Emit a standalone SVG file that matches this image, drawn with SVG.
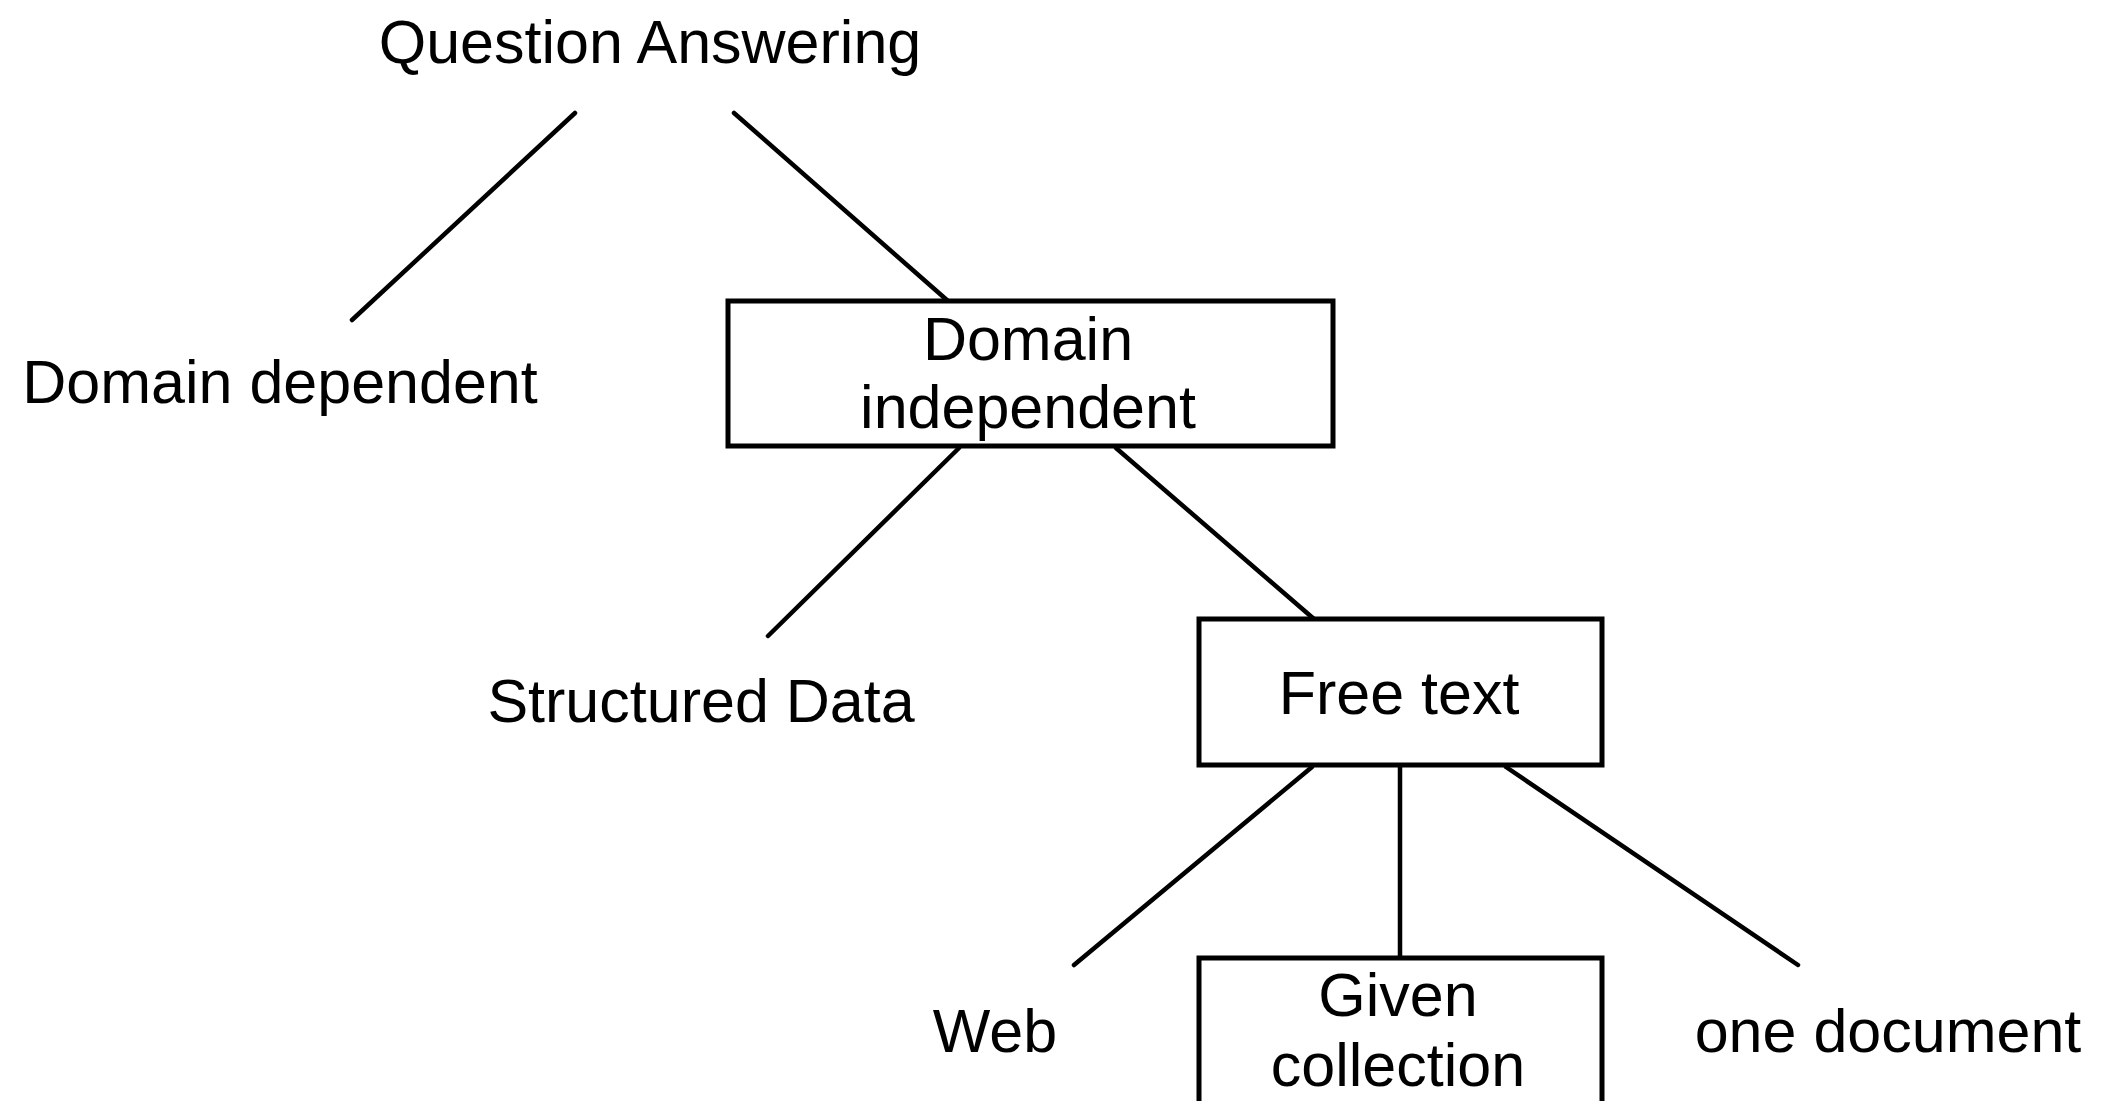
<svg xmlns="http://www.w3.org/2000/svg" width="2105" height="1101" viewBox="0 0 2105 1101">
  <style>
    .lbl { font-family: "Liberation Sans", Arial, Helvetica, sans-serif; font-size: 61px; fill: #000; text-anchor: middle; }
    .box { fill: #fff; stroke: #000; stroke-width: 5; }
    .edge { stroke: #000; stroke-width: 4.5; stroke-linecap: round; fill: none; }
  </style>
  <rect width="2105" height="1101" fill="#fff"/>

  <!-- tree edges -->
  <g id="connectors">
    <line class="edge" x1="575" y1="113" x2="352" y2="320"/>
    <line class="edge" x1="734" y1="113" x2="948" y2="301"/>
    <line class="edge" x1="959" y1="448" x2="768" y2="636"/>
    <line class="edge" x1="1116" y1="448" x2="1314" y2="619"/>
    <line class="edge" x1="1312" y1="767" x2="1074" y2="965"/>
    <line class="edge" x1="1400" y1="767" x2="1400" y2="958"/>
    <line class="edge" x1="1506" y1="767" x2="1798" y2="965"/>
  </g>

  <g id="question-answering">
    <text class="lbl" x="650" y="63">Question Answering</text>
  </g>

  <g id="domain-dependent">
    <text class="lbl" x="280" y="403">Domain dependent</text>
  </g>

  <g id="domain-independent">
    <rect class="box" x="728" y="301" width="605" height="145"/>
    <text class="lbl" x="1028" y="360">Domain</text>
    <text class="lbl" x="1028" y="428">independent</text>
  </g>

  <g id="structured-data">
    <text class="lbl" x="701" y="722">Structured Data</text>
  </g>

  <g id="free-text">
    <rect class="box" x="1199" y="619" width="403" height="146"/>
    <text class="lbl" x="1399" y="714">Free text</text>
  </g>

  <g id="web">
    <text class="lbl" x="995" y="1052">Web</text>
  </g>

  <g id="given-collection">
    <rect class="box" x="1199" y="958" width="403" height="160"/>
    <text class="lbl" x="1398" y="1016">Given</text>
    <text class="lbl" x="1398" y="1086">collection</text>
  </g>

  <g id="one-document">
    <text class="lbl" x="1888" y="1052">one document</text>
  </g>
</svg>
